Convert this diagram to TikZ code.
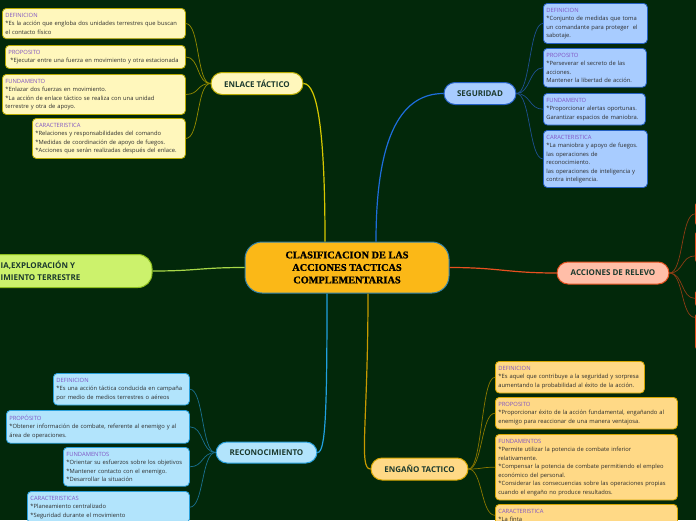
\documentclass[tikz,border=0pt]{standalone}
\usepackage{fontspec}
\setmainfont{Open Sans}
\newfontfamily\hubfont[BoldFeatures={FakeBold=1.2}]{Liberation Serif}
\usepackage{xcolor}

\definecolor{bgc}{RGB}{2,40,10}
\definecolor{hubfill}{RGB}{251,184,23}
\definecolor{hubdraw}{RGB}{52,130,168}
\definecolor{hdtxt}{RGB}{128,84,196}
\definecolor{bodytxt}{RGB}{45,45,45}
\definecolor{brtxt}{RGB}{28,58,46}
% yellow family (enlace)
\definecolor{ylfill}{RGB}{255,247,188}
\definecolor{yldraw}{RGB}{184,170,0}
\definecolor{ylline}{RGB}{214,200,0}
\definecolor{ylsub}{RGB}{150,140,0}
% blue family (seguridad)
\definecolor{blfill}{RGB}{168,204,255}
\definecolor{bldraw}{RGB}{36,96,196}
\definecolor{blline}{RGB}{30,110,220}
\definecolor{blsub}{RGB}{30,80,145}
% red family (relevo)
\definecolor{rdfill}{RGB}{255,190,168}
\definecolor{rddraw}{RGB}{226,80,30}
\definecolor{rdline}{RGB}{232,80,32}
\definecolor{rdsub}{RGB}{140,60,20}
% green family
\definecolor{grfill}{RGB}{204,242,108}
\definecolor{grdraw}{RGB}{140,190,30}
\definecolor{grline}{RGB}{168,216,72}
% cyan family (reconocimiento)
\definecolor{cyfill}{RGB}{178,228,252}
\definecolor{cydraw}{RGB}{40,160,220}
\definecolor{cyline}{RGB}{32,160,224}
\definecolor{cysub}{RGB}{26,112,144}
% orange family (engano)
\definecolor{orfill}{RGB}{255,217,134}
\definecolor{ordraw}{RGB}{214,166,0}
\definecolor{orline}{RGB}{200,154,0}
\definecolor{orsub}{RGB}{140,120,0}

\newcommand\hd[1]{{\color{hdtxt}#1}}

\tikzset{
  leaf/.style={draw, rounded corners=4pt, line width=0.8pt, anchor=north west, align=left,
    inner xsep=3pt, inner ysep=4.5pt, text=bodytxt, font=\fontsize{5.8}{8.5}\selectfont},
  branch/.style={draw, rounded corners=11pt, line width=1pt, text=brtxt,
    minimum height=22pt, font=\bfseries\fontsize{8}{9}\selectfont},
  trunk/.style={line width=1.2pt},
  twig/.style={line width=0.7pt},
}

\begin{document}
\begin{tikzpicture}[x=1pt, y=-1pt]
\fill[bgc] (0,0) rectangle (696,520);
\useasboundingbox (0,0) rectangle (696,520);
\clip (0,0) rectangle (696,520);

% central node
\node[draw=hubdraw, fill=hubfill, line width=1pt, rounded corners=17pt, minimum width=204pt,
  minimum height=51pt, align=center, font=\hubfont\bfseries\fontsize{10.3}{12.5}\selectfont]
  (hub) at (347,267.5) {CLASIFICACION DE LAS\\ACCIONES TACTICAS\\COMPLEMENTARIAS};

% main branches
\node[branch, draw=yldraw, fill=ylfill, minimum width=92pt] (enlace) at (257,83.5) {ENLACE TÁCTICO};
\node[branch, draw=bldraw, fill=blfill, minimum width=72pt] (seguridad) at (480,93.5) {SEGURIDAD};
\node[branch, draw=rddraw, fill=rdfill, minimum width=112pt] (relevo) at (613,273) {ACCIONES DE RELEVO};
\node[branch, draw=grdraw, fill=grfill, minimum width=190pt, minimum height=33pt, rounded corners=14pt] (vigil) at (57,271) {};
\node[anchor=west, align=left, text=brtxt, font=\bfseries\fontsize{8}{12}\selectfont, inner sep=0pt]
  (vigiltxt) at (0.5,270.5) {IA,EXPLORACIÓN Y\\IMIENTO TERRESTRE};
\node[branch, draw=cydraw, fill=cyfill, minimum width=101pt, minimum height=21pt] (recon) at (266.5,452.5) {RECONOCIMIENTO};
\node[branch, draw=ordraw, fill=orfill, minimum width=97pt] (engano) at (419.5,469) {ENGAÑO TACTICO};

% trunks from the centre
\draw[trunk, ylline] ([xshift=-22pt]hub.north) .. controls +(0,-110) and +(14,0) .. (enlace.east);
\draw[trunk, blline] ([xshift=29pt]hub.north) .. controls +(0,-110) and +(-40,0) .. (seguridad.west);
\draw[trunk, rdline] (hub.east) .. controls +(50,0) and +(-50,0) .. (relevo.west);
\draw[trunk, grline] (hub.west) .. controls +(-45,0) and +(45,0) .. (vigil.east);
\draw[trunk, cyline] ([xshift=-20pt]hub.south) .. controls +(0,120) and +(8,0) .. (recon.east);
\draw[trunk, orline] ([xshift=21pt]hub.south) .. controls +(0,130) and +(-12,0) .. (engano.west);

% ENLACE TACTICO
\node[leaf, draw=yldraw, fill=ylfill, text width=177pt] (e1) at (2,8)
  {\hd{DEFINICION}\\{}*Es la acción que engloba dos unidades terrestres que buscan\\el contacto físico};
\node[leaf, draw=yldraw, fill=ylfill, text width=174pt] (e2) at (5,45)
  {\hd{PROPOSITO}\\\hspace{2pt}*Ejecutar entre una fuerza en movimiento y otra estacionada};
\node[leaf, draw=yldraw, fill=ylfill, text width=177pt] (e3) at (2,74)
  {\hd{FUNDAMENTO}\\{}*Enlazar dos fuerzas en movimiento.\\{}*La acción de enlace táctico se realiza con una unidad\\terrestre y otra de apoyo.};
\node[leaf, draw=yldraw, fill=ylfill, text width=147pt] (e4) at (32,118)
  {\hd{CARACTERISTICA}\\{}*Relaciones y responsabilidades del comando\\{}*Medidas de coordinación de apoyo de fuegos.\\{}*Acciones que serán realizadas después del enlace.};
\foreach \n in {e1,e2,e3,e4}
  \draw[twig, ylsub] (enlace.west) .. controls +(-14,0) and +(14,0) .. (\n.east);

% SEGURIDAD
\node[leaf, draw=bldraw, fill=blfill, text width=98pt] (s1) at (543,3)
  {\hd{DEFINICION}\\{}*Conjunto de medidas que toma\\un comandante para proteger\ \ el\\sabotaje.};
\node[leaf, draw=bldraw, fill=blfill, text width=97pt] (s2) at (543,48)
  {\hd{PROPOSITO}\\{}*Perseverar el secreto de las\\acciones.\\Mantener la libertad de acción.};
\node[leaf, draw=bldraw, fill=blfill, text width=96pt] (s3) at (543,93)
  {\hd{FUNDAMENTO}\\{}*Proporcionar alertas oportunas.\\Garantizar espacios de maniobra.};
\node[leaf, draw=bldraw, fill=blfill, text width=98pt] (s4) at (543,130)
  {\hd{CARACTERISTICA}\\{}*La maniobra y apoyo de fuegos.\\las operaciones de\\reconocimiento.\\las operaciones de inteligencia y\\contra inteligencia.};
\foreach \n in {s1,s2,s3,s4}
  \draw[twig, blsub] (seguridad.east) .. controls +(14,0) and +(-14,0) .. (\n.west);

% ACCIONES DE RELEVO (children cut by the right edge)
\node[leaf, draw=rddraw, fill=rdfill, minimum width=40pt, minimum height=25pt] (r1) at (695,201) {};
\node[leaf, draw=rddraw, fill=rdfill, minimum width=40pt, minimum height=33pt] (r2) at (695,230) {};
\node[leaf, draw=rddraw, fill=rdfill, minimum width=40pt, minimum height=18pt] (r3) at (695,289) {};
\node[leaf, draw=rddraw, fill=rdfill, minimum width=40pt, minimum height=38pt] (r4) at (695,312) {};
\draw[twig, rdsub] (relevo.east) .. controls +(14,0) and +(-14,0) .. (r1.west);
\draw[twig, rdsub] (relevo.east) .. controls +(14,0) and +(-14,0) .. ([yshift=-9pt]r2.west);
\draw[twig, rdsub] (relevo.east) .. controls +(14,0) and +(-14,0) .. (r3.west);
\draw[twig, rdsub] (relevo.east) .. controls +(14,0) and +(-14,0) .. ([yshift=14pt]r4.west);

% RECONOCIMIENTO
\node[leaf, draw=cydraw, fill=cyfill, text width=130pt] (c1) at (53,373)
  {\hd{DEFINICION}\\{}*Es una acción táctica conducida en campaña\\por medio de medios terrestres o aéreos};
\node[leaf, draw=cydraw, fill=cyfill, text width=177pt] (c2) at (6,410)
  {\hd{PROPÓSITO}\\{}*Obtener información de combate, referente al enemigo y al\\área de operaciones.};
\node[leaf, draw=cydraw, fill=cyfill, text width=120pt] (c3) at (63,447)
  {\hd{FUNDAMENTOS}\\{}*Orientar su esfuerzos sobre los objetivos\\{}*Mantener contacto con el enemigo.\\{}*Desarrollar la situación};
\node[leaf, draw=cydraw, fill=cyfill, text width=156pt] (c4) at (27,491)
  {\hd{CARACTERISTICAS}\\{}*Planeamiento centralizado\\{}*Seguridad durante el movimiento};
\foreach \n in {c1,c2,c3,c4}
  \draw[twig, cysub] (recon.west) .. controls +(-14,0) and +(14,0) .. (\n.east);

% ENGANO TACTICO
\node[leaf, draw=ordraw, fill=orfill, text width=143pt] (g1) at (495,361)
  {\hd{DEFINICION}\\{}*Es aquel que contribuye a la seguridad y sorpresa\\aumentando la probabilidad al éxito de la acción.};
\node[leaf, draw=ordraw, fill=orfill, text width=176pt] (g2) at (495,397)
  {\hd{PROPOSITO}\\{}*Proporcionar éxito de la acción fundamental, engañando al\\enemigo para reaccionar de una manera ventajosa.};
\node[leaf, draw=ordraw, fill=orfill, text width=176pt] (g3) at (495,434)
  {\hd{FUNDAMENTOS}\\{}*Permite utilizar la potencia de combate inferior\\relativamente.\\{}*Compensar la potencia de combate permitiendo el empleo\\económico del personal.\\{}*Considerar las consecuencias sobre las operaciones propias\\cuando el engaño no produce resultados.};
\node[leaf, draw=ordraw, fill=orfill, text width=176pt] (g4) at (495,504)
  {\hd{CARACTERISTICA}\\{}*La finta};
\foreach \n in {g1,g2,g3,g4}
  \draw[twig, orsub] (engano.east) .. controls +(14,0) and +(-14,0) .. (\n.west);
\end{tikzpicture}
\end{document}
